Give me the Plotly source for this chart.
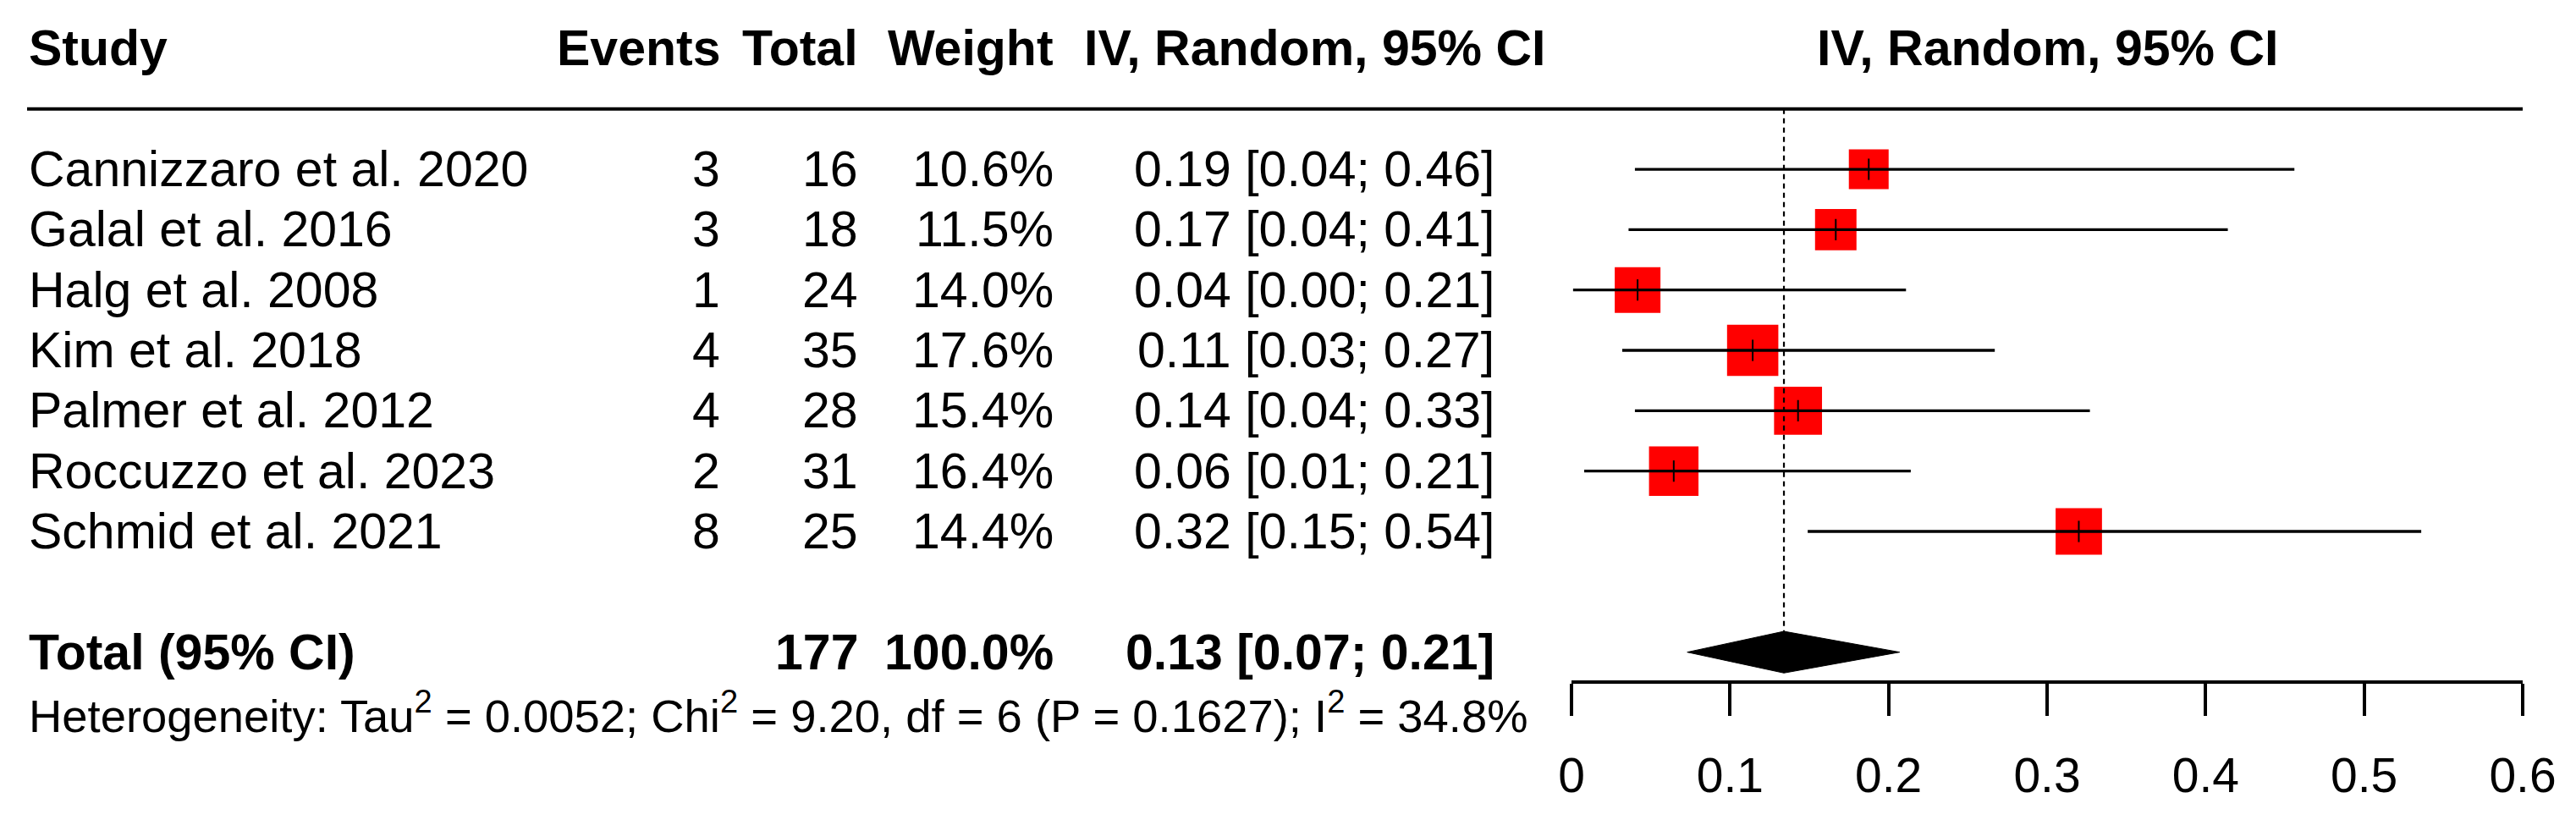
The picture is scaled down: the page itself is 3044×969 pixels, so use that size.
import plotly.graph_objects as go

# ---------------- data ----------------
studies = ["Cannizzaro et al. 2020", "Galal et al. 2016", "Halg et al. 2008",
           "Kim et al. 2018", "Palmer et al. 2012", "Roccuzzo et al. 2023",
           "Schmid et al. 2021"]
events = [3, 3, 1, 4, 4, 2, 8]
totals = [16, 18, 24, 35, 28, 31, 25]
weights = [10.6, 11.5, 14.0, 17.6, 15.4, 16.4, 14.4]
estimates = [0.1875, 0.1667, 0.0417, 0.1143, 0.1429, 0.0645, 0.32]
lower = [0.040, 0.036, 0.001, 0.032, 0.040, 0.008, 0.149]
upper = [0.456, 0.414, 0.211, 0.267, 0.327, 0.214, 0.536]

pooled_est = 0.134
pooled_lower = 0.073
pooled_upper = 0.207
pooled_weight = 100.0

tau2 = "0.0052"
chi2 = "9.20"
df_het = 6
p_het = "0.1627"
i2 = "34.8%"

col_headers = ["Study", "Events", "Total", "Weight", "IV, Random, 95% CI"]
plot_header = "IV, Random, 95% CI"
total_label = "Total (95% CI)"
tick_vals = [0, 0.1, 0.2, 0.3, 0.4, 0.5, 0.6]
tick_text = ["0", "0.1", "0.2", "0.3", "0.4", "0.5", "0.6"]

# ---------------- layout constants ----------------
W, H = 3044, 969
ROW_TOP_PX = 128.7      # pixel y of row 0 (header rule)
ROW_H_PX = 71.33        # pixel height of one row
FONT = "Liberation Sans, Arial, Helvetica, sans-serif"
FS = 59
FS_HET = 54.4

def px(x):
    return x / W

study_rows = list(range(1, len(studies) + 1))
total_row = len(studies) + 2
het_row = total_row + 1
header_row = -1
diamond_half = 0.345

fig = go.Figure()

# squares (area proportional to weight)
fig.add_trace(go.Scatter(
    x=estimates, y=study_rows, mode="markers",
    marker=dict(symbol="square", color="#ff0000", opacity=1,
                size=[14.44 * w ** 0.5 for w in weights], line=dict(width=0)),
    cliponaxis=False, hoverinfo="skip"))

# confidence interval lines
ci_x, ci_y = [], []
for lo, hi, r in zip(lower, upper, study_rows):
    ci_x += [lo, hi, None]
    ci_y += [r, r, None]
fig.add_trace(go.Scatter(x=ci_x, y=ci_y, mode="lines",
                         line=dict(color="black", width=3.3),
                         cliponaxis=False, hoverinfo="skip"))

# small vertical tick at point estimate
fig.add_trace(go.Scatter(
    x=estimates, y=study_rows, mode="markers",
    marker=dict(symbol="line-ns", size=18, opacity=1,
                line=dict(color="black", width=2)),
    cliponaxis=False, hoverinfo="skip"))

# dashed line at pooled estimate
fig.add_trace(go.Scatter(
    x=[pooled_est, pooled_est], y=[0, total_row - diamond_half], mode="lines",
    line=dict(color="black", width=2.2, dash="6px,5px"),
    cliponaxis=False, hoverinfo="skip"))

# diamond
fig.add_trace(go.Scatter(
    x=[pooled_lower, pooled_est, pooled_upper, pooled_est, pooled_lower],
    y=[total_row, total_row - diamond_half, total_row, total_row + diamond_half, total_row],
    mode="lines", fill="toself", fillcolor="black",
    line=dict(color="black", width=1), cliponaxis=False, hoverinfo="skip"))

ann = []

def add_text(text, xpx, row, anchor, size=FS, bold=False):
    if bold:
        text = "<b>" + text + "</b>"
    ann.append(dict(text=text, x=px(xpx), xref="paper", y=row, yref="y",
                    xanchor=anchor, yanchor="middle", showarrow=False,
                    font=dict(family=FONT, size=size, color="black")))

# column x positions (pixels)
X_STUDY = 32
X_EVENTS = 853
X_TOTAL = 1016
X_WEIGHT = 1247
X_CI_CENTER = 1553
X_CI_RIGHT = 1768
X_PLOT_CENTER = 2419

# headers
add_text(col_headers[0], X_STUDY, header_row, "left", bold=True)
add_text(col_headers[1], X_EVENTS, header_row, "right", bold=True)
add_text(col_headers[2], X_TOTAL, header_row, "right", bold=True)
add_text(col_headers[3], X_WEIGHT, header_row, "right", bold=True)
add_text(col_headers[4], X_CI_CENTER, header_row, "center", bold=True)
add_text(plot_header, X_PLOT_CENTER, header_row, "center", bold=True)

# study rows
for s, e, n, w, est, lo, hi, r in zip(studies, events, totals, weights,
                                      estimates, lower, upper, study_rows):
    add_text(s, X_STUDY, r, "left")
    add_text(str(e), X_EVENTS, r, "right")
    add_text(str(n), X_TOTAL, r, "right")
    add_text(f"{w:.1f}%", X_WEIGHT, r, "right")
    add_text(f"{est:.2f} [{lo:.2f}; {hi:.2f}]", X_CI_RIGHT, r, "right")

# total row
add_text(total_label, X_STUDY, total_row, "left", bold=True)
add_text(str(sum(totals)), X_TOTAL, total_row, "right", bold=True)
add_text(f"{pooled_weight:.1f}%", X_WEIGHT, total_row, "right", bold=True)
add_text(f"{pooled_est:.2f} [{pooled_lower:.2f}; {pooled_upper:.2f}]",
         X_CI_RIGHT, total_row, "right", bold=True)

# heterogeneity
het = (f"Heterogeneity: Tau<sup>2</sup> = {tau2}; Chi<sup>2</sup> = {chi2}, "
       f"df = {df_het} (P = {p_het}); I<sup>2</sup> = {i2}")
add_text(het, X_STUDY, het_row, "left", size=FS_HET)

y_top = -ROW_TOP_PX / ROW_H_PX
y_bot = (H - ROW_TOP_PX) / ROW_H_PX

fig.update_layout(
    width=W, height=H,
    margin=dict(l=0, r=0, t=0, b=0),
    paper_bgcolor="white", plot_bgcolor="white",
    showlegend=False,
    annotations=ann,
    shapes=[dict(type="line", xref="paper", yref="y",
                 x0=px(32), x1=px(2981), y0=0, y1=0,
                 line=dict(color="black", width=4))],
    xaxis=dict(domain=[px(1857), px(2981)], range=[0, 0.6],
               anchor="free", position=1 - 806 / H, automargin=False,
               showline=True, linewidth=4, linecolor="black",
               ticks="outside", ticklen=38, tickwidth=3.5, tickcolor="black",
               tickvals=tick_vals, ticktext=tick_text,
               tickfont=dict(family=FONT, size=57, color="black"),
               ticklabelstandoff=22,
               showgrid=False, zeroline=False, fixedrange=True),
    yaxis=dict(domain=[0, 1], range=[y_bot, y_top], visible=False,
               automargin=False,
               showgrid=False, zeroline=False, fixedrange=True),
)

fig.write_html(
    "out.html",
    config={"displayModeBar": False},
    post_script="document.body.style.margin='0';document.body.style.overflow='hidden';",
)
